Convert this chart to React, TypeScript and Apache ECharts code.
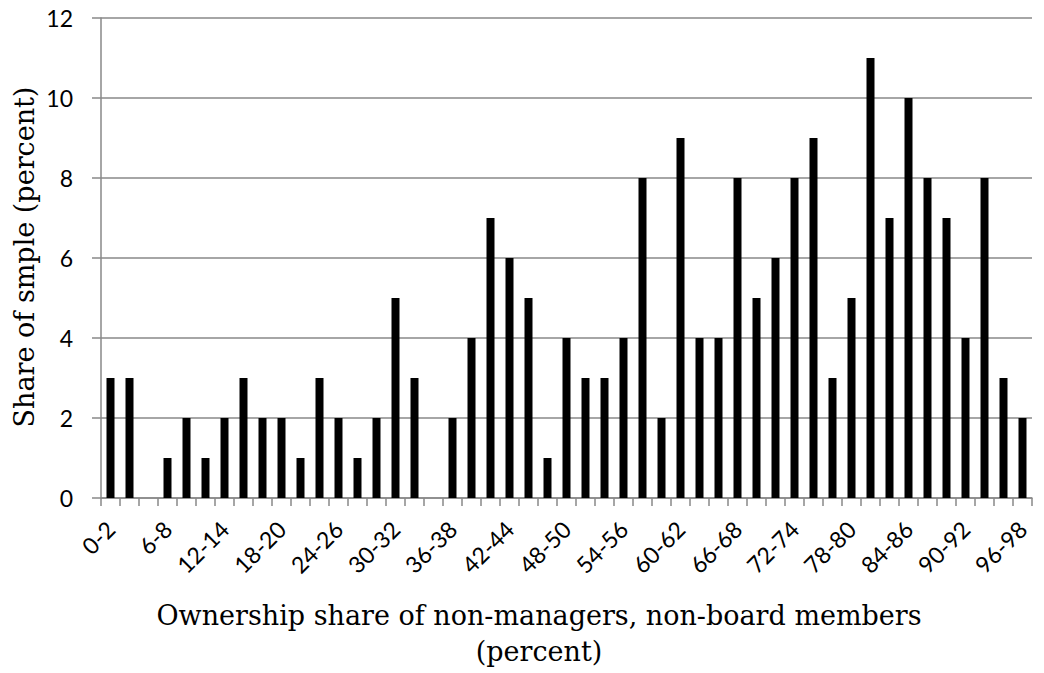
import React, { useEffect, useRef } from "react";
import * as echarts from "echarts";

const categories: string[] = [
  "0-2", "2-4", "4-6", "6-8", "8-10", "10-12", "12-14", "14-16", "16-18", "18-20",
  "20-22", "22-24", "24-26", "26-28", "28-30", "30-32", "32-34", "34-36", "36-38", "38-40",
  "40-42", "42-44", "44-46", "46-48", "48-50", "50-52", "52-54", "54-56", "56-58", "58-60",
  "60-62", "62-64", "64-66", "66-68", "68-70", "70-72", "72-74", "74-76", "76-78", "78-80",
  "80-82", "82-84", "84-86", "86-88", "88-90", "90-92", "92-94", "94-96", "96-98",
];

const shareOfSample: number[] = [
  3, 3, 0, 1, 2, 1, 2, 3, 2, 2,
  1, 3, 2, 1, 2, 5, 3, 0, 2, 4,
  7, 6, 5, 1, 4, 3, 3, 4, 8, 2,
  9, 4, 4, 8, 5, 6, 8, 9, 3, 5,
  11, 7, 10, 8, 7, 4, 8, 3, 2,
];

const yTicks = { min: 0, max: 12, interval: 2 };

const xTitle1 = "Ownership share of non-managers, non-board members";
const xTitle2 = "(percent)";
const yTitle = "Share of smple (percent)";

export default function App() {
  const ref = useRef<HTMLDivElement>(null);

  useEffect(() => {
    if (!ref.current) return;
    const chart = echarts.init(ref.current, undefined, { renderer: "svg" });
    const gridColor = "#898989";
    const sans = "Lato, 'Open Sans', sans-serif";
    const serif = "'DejaVu Serif', 'Liberation Serif', serif";
    chart.setOption({
      animation: false,
      backgroundColor: "#ffffff",
      grid: { left: 101, right: 12, top: 18, bottom: 175, containLabel: false },
      xAxis: {
        type: "category",
        data: categories,
        boundaryGap: true,
        axisLine: { show: true, lineStyle: { color: gridColor, width: 1.5 } },
        axisTick: { show: true, interval: 0, length: 8, lineStyle: { color: gridColor, width: 1.5 } },
        axisLabel: {
          interval: 2,
          rotate: 45,
          margin: 27,
          color: "#000",
          fontFamily: sans,
          fontSize: 23,
        },
        splitLine: { show: false },
      },
      yAxis: {
        type: "value",
        min: yTicks.min,
        max: yTicks.max,
        interval: yTicks.interval,
        axisLine: { show: true, lineStyle: { color: gridColor, width: 1.5 } },
        axisTick: { show: true, length: 9, lineStyle: { color: gridColor, width: 1.5 } },
        axisLabel: {
          margin: 28,
          color: "#000",
          fontFamily: sans,
          fontSize: 23,
        },
        splitLine: { show: true, lineStyle: { color: gridColor, width: 1.5 } },
      },
      series: [
        {
          type: "bar",
          data: shareOfSample,
          barWidth: 8,
          itemStyle: { color: "#000" },
          z: 3,
        },
      ],
      graphic: [
        {
          type: "text",
          x: 539,
          y: 615,
          style: {
            text: xTitle1,
            fill: "#000",
            font: `27px ${serif}`,
            align: "center",
            verticalAlign: "middle",
          },
        },
        {
          type: "text",
          x: 539,
          y: 651,
          style: {
            text: xTitle2,
            fill: "#000",
            font: `27px ${serif}`,
            align: "center",
            verticalAlign: "middle",
          },
        },
        {
          type: "text",
          x: 24,
          y: 257,
          rotation: Math.PI / 2,
          style: {
            text: yTitle,
            fill: "#000",
            font: `27px ${serif}`,
            align: "center",
            verticalAlign: "middle",
          },
        },
      ],
    });
    return () => chart.dispose();
  }, []);

  return (
    <div
      ref={ref}
      style={{ position: "absolute", left: 0, top: 0, width: 1044, height: 673 }}
    />
  );
}
